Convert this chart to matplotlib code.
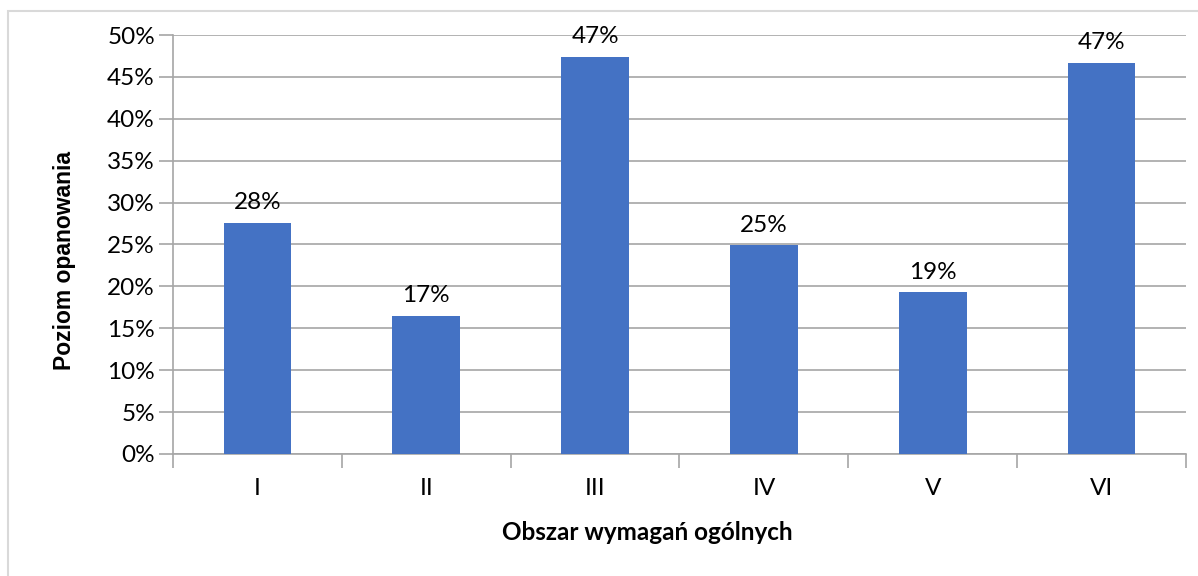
import matplotlib
matplotlib.use("Agg")
import matplotlib.pyplot as plt
from matplotlib.ticker import FuncFormatter, MultipleLocator
from matplotlib.patches import Rectangle
import numpy as np

categories = ["I", "II", "III", "IV", "V", "VI"]
values = [0.276, 0.165, 0.474, 0.249, 0.193, 0.467]
labels = ["28%", "17%", "47%", "25%", "19%", "47%"]

W, H = 1198, 576
fig = plt.figure(figsize=(W / 100, H / 100), dpi=100)
fig.patch.set_facecolor("white")

# outer chart border
fig.add_artist(Rectangle((8 / W, -0.1), 1.2, 1 - 11 / H + 0.1, transform=fig.transFigure,
                         fill=False, edgecolor="#d9d9d9", linewidth=1.5))

ax = fig.add_axes([173 / W, 1 - 454 / H, (1186 - 173) / W, (454 - 35) / H])
x = np.arange(len(categories))
ax.bar(x, values, width=0.4, color="#4472c4", zorder=3)
ax.set_xlim(-0.5, len(categories) - 0.5)
ax.set_ylim(0, 0.5)
ax.yaxis.set_major_locator(MultipleLocator(0.05))
ax.yaxis.set_major_formatter(FuncFormatter(lambda v, p: f"{v*100:.0f}%"))
ax.grid(axis="y", color="#a6a6a6", linewidth=1.2, zorder=0)

for s in ["top", "right"]:
    ax.spines[s].set_visible(False)
for s in ["left", "bottom"]:
    ax.spines[s].set_color("#a6a6a6")
    ax.spines[s].set_linewidth(1.2)

tickfont = "Lato"
fs = 17.5
ax.set_xticks(np.arange(-0.5, len(categories), 1.0))
ax.set_xticklabels([])
ax.set_xticks(x, minor=True)
ax.set_xticklabels(categories, minor=True, fontsize=fs, family=tickfont)
ax.tick_params(axis="x", which="major", length=10, color="#a6a6a6", width=1.2)
ax.tick_params(axis="x", which="minor", length=0, pad=17)
ax.tick_params(axis="y", length=10, color="#a6a6a6", width=1.2, labelsize=fs, pad=3)
for t in ax.get_yticklabels():
    t.set_family(tickfont)

for xi, v, lab in zip(x, values, labels):
    ax.annotate(lab, (xi, v), xytext=(0, 7), textcoords="offset points",
                ha="center", va="bottom", fontsize=fs, family=tickfont)

fig.text(65 / W, 1 - 261 / H, "Poziom opanowania", rotation=90, ha="center", va="center",
         fontsize=16.5, fontweight="bold", family="Liberation Sans")
fig.text(647 / W, 1 - 532 / H, "Obszar wymagań ogólnych", ha="center", va="center",
         fontsize=17.5, fontweight="bold", family="Lato")

fig.savefig("out.png", dpi=100, facecolor="white")
